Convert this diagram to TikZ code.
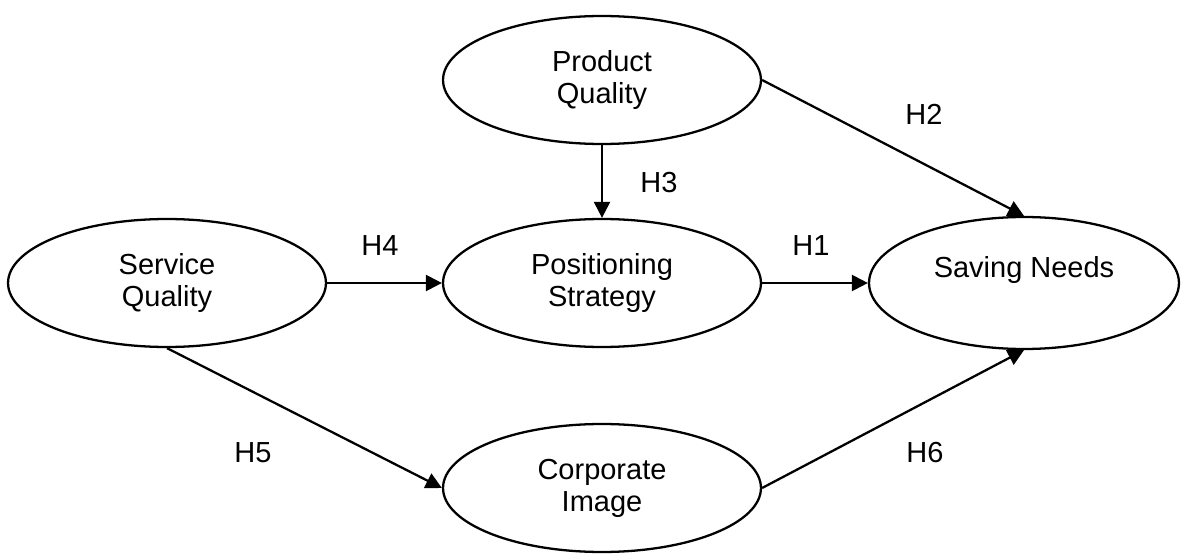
\documentclass[tikz,border=0pt]{standalone}
\usepackage{fontspec}
\setmainfont{Liberation Sans}
\usetikzlibrary{shapes.geometric, arrows.meta}
\tikzset{
    var/.style={
        draw, ellipse,
        line width = 1.3pt,
        minimum width = 6.36cm,
        minimum height = 2.56cm,
        inner sep = 0pt,
        align = center,
        font = \fontsize{16.5}{18.2}\selectfont
    },
    hyp/.style = {font = \fontsize{16.5}{18.2}\selectfont},
    line/.style = {line width = 1.3pt, -{Triangle[length=0.32cm, width=0.32cm]}}
}

\begin{document}
\begin{tikzpicture}[x=0.02cm, y=-0.02cm]
    \useasboundingbox (0,0) rectangle (1181,554);

    % Constructs
    \node[var] (prod) at (602,80) {Product\\Quality};
    \node[var] (serv) at (167,283) {Service\\Quality};
    \node[var] (posi) at (602,283) {Positioning\\Strategy};
    \node[var, minimum width = 6.2cm, minimum height = 2.64cm] (save) at (1024,283) {Saving Needs\\ \mbox{}};
    \node[var] (corp) at (602,488) {Corporate\\Image};

    % Paths
    \draw[line] (prod.south) -- (posi.north);
    \draw[line] (prod.east) -- (save.north);
    \draw[line] (serv.east) -- (posi.west);
    \draw[line] (posi.east) -- (save.west);
    \draw[line] (serv.south) -- (corp.west);
    \draw[line] (corp.east) -- (save.south);

    % Hypotheses
    \node[hyp] (h1) at (811,246) {H1};
    \node[hyp] (h2) at (924,114) {H2};
    \node[hyp] (h3) at (659,183) {H3};
    \node[hyp] (h4) at (380,246) {H4};
    \node[hyp] (h5) at (253,453) {H5};
    \node[hyp] (h6) at (925,453) {H6};

\end{tikzpicture}
\end{document}
